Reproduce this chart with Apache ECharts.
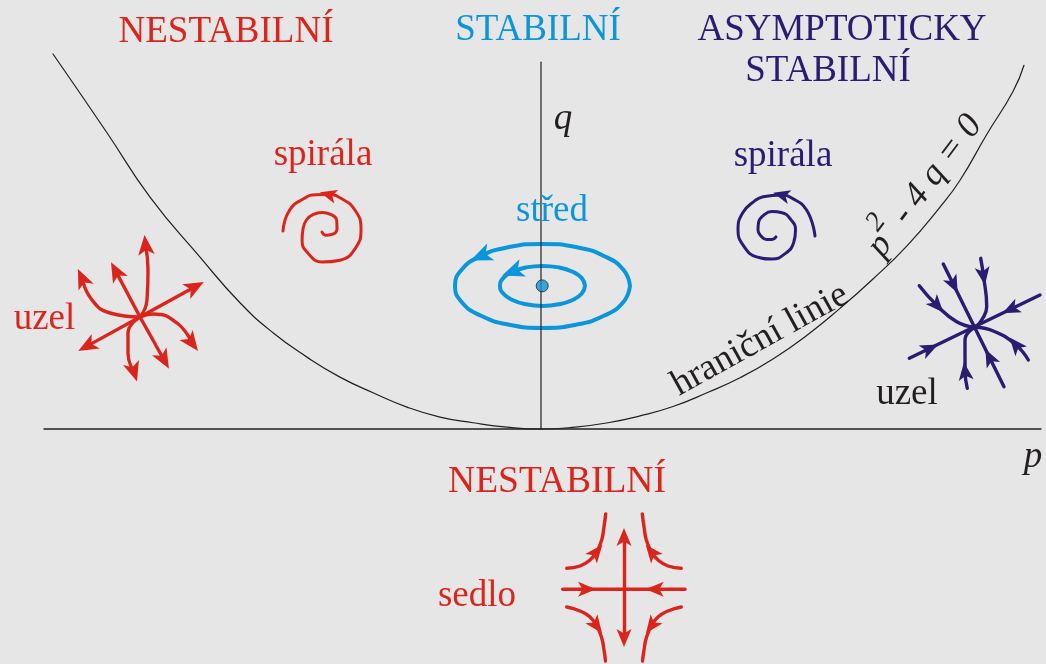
<!DOCTYPE html>
<html>
<head>
<meta charset="utf-8">
<title>Stabilita – rovina p, q</title>
<script src="https://cdn.jsdelivr.net/npm/echarts@6.0.0/dist/echarts.min.js"></script>
<style>
  html, body { margin: 0; padding: 0; background: #e6e6e6; }
  #chart { width: 1046px; height: 664px; }
</style>
</head>
<body>
<div id="chart"></div>
<script>
var RED = '#da251d', CYAN = '#0b95da', NAVY = '#291c72', INK = '#231f20';
var SERIF = '"Liberation Serif", "Times New Roman", serif';
// slim arrow head, tip up; the lone moveTo points keep the box square
var ARROW = 'path://M-1,6 M11,6 M5,0 L10,12 L5,9 L0,12 Z';

// hranicni linie p^2 - 4q = 0
var boundaryP = [-4.88, -4.34, -3.91, -3.41, -3.01, -2.68, -2.34, -2.01, -1.68, -1.34, -1.01, -0.68, -0.34, 0,
                 0.34, 0.67, 0.99, 1.32, 1.66, 1.99, 2.32, 2.66, 2.99, 3.32, 3.66, 3.99, 4.19, 4.46, 4.72, 4.83];
var boundaryQ = [6.00, 4.74, 3.71, 2.75, 2.02, 1.54, 1.15, 0.83, 0.58, 0.35, 0.19, 0.10, 0.03, 0,
                 0.03, 0.10, 0.21, 0.36, 0.58, 0.82, 1.12, 1.50, 1.93, 2.40, 2.93, 3.55, 3.98, 4.72, 5.40, 5.82];

// axis lines
var pAxisEnds = [-4.97, 5.0];
var qAxisTop = 5.87;

// red node (nestabilni uzel)
var redNodeCenter = [-4.01, 1.792];
var redNodeRays = [[-4.54, 1.326], [-3.46, 2.275], [-4.253, 2.526], [-3.769, 1.104]];
var redNodeUp = [[-4.01, 1.792], [-3.94, 2.064], [-3.93, 2.544], [-3.955, 2.944]];
var redNodeLeft = [[-4.01, 1.792], [-4.31, 1.856], [-4.49, 2.064], [-4.59, 2.416]];
var redNodeDown = [[-4.01, 1.792], [-4.13, 1.536], [-4.13, 1.216], [-4.07, 0.912]];
var redNodeRight = [[-4.01, 1.792], [-3.88, 1.84], [-3.64, 1.696], [-3.49, 1.376]];

// red spiral (outward)
var redSpiral = [[-2.19, 3.152], [-2.155, 3.102], [-2.095, 3.112], [-2.04, 3.2], [-2.043, 3.336], [-2.105, 3.435],
                 [-2.19, 3.464], [-2.275, 3.435], [-2.346, 3.344], [-2.38, 3.2], [-2.389, 3.016], [-2.33, 2.813],
                 [-2.19, 2.672], [-2.01, 2.701], [-1.857, 2.891], [-1.80, 3.2], [-1.861, 3.504], [-2.01, 3.699],
                 [-2.129, 3.752], [-2.251, 3.749], [-2.367, 3.691], [-2.515, 3.499], [-2.58, 3.168]];
var redSpiralArrowAt = 18;

// centre (stred): two closed orbits and the equilibrium
var orbitOuter = [[0.89, 2.29], [0.824, 2.547], [0.634, 2.765], [0.35, 2.911], [0.015, 2.962], [-0.32, 2.911],
                  [-0.604, 2.765], [-0.794, 2.547], [-0.86, 2.29], [-0.794, 2.033], [-0.604, 1.815], [-0.32, 1.669],
                  [0.015, 1.618], [0.35, 1.669], [0.634, 1.815], [0.824, 2.033], [0.89, 2.29]];
var orbitInner = [[0.44, 2.29], [0.408, 2.413], [0.316, 2.516], [0.178, 2.586], [0.015, 2.61], [-0.148, 2.586],
                  [-0.286, 2.516], [-0.378, 2.413], [-0.41, 2.29], [-0.378, 2.168], [-0.286, 2.064], [-0.148, 1.995],
                  [0.015, 1.97], [0.178, 1.995], [0.316, 2.064], [0.408, 2.168], [0.44, 2.29]];
var orbitHeads = [[[-0.512, 2.827], [-0.604, 2.765]], [[-0.21, 2.561], [-0.286, 2.516]]];
var centreDot = [0.012, 2.29];

// navy spiral (inward)
var navySpiral = [[2.74, 3.088], [2.656, 3.504], [2.498, 3.704], [2.404, 3.744], [2.221, 3.717], [2.14, 3.654],
                  [2.016, 3.456], [1.97, 3.184], [2.029, 2.923], [2.155, 2.755], [2.31, 2.72], [2.445, 2.81],
                  [2.527, 2.984], [2.545, 3.184], [2.496, 3.355], [2.41, 3.461], [2.31, 3.48], [2.225, 3.419],
                  [2.176, 3.307], [2.17, 3.184], [2.202, 3.083], [2.255, 3.032], [2.31, 3.032], [2.35, 3.074]];
var navySpiralArrowAt = 3;

// navy node (asymptoticky stabilni uzel)
var navyNodeLines = [[[3.683, 1.131], [4.99, 2.144]], [[4.023, 2.64], [4.63, 0.677]]];
var navyNodeLineHeads = [[[3.80, 1.221], [3.89, 1.29]], [[4.784, 1.984], [4.695, 1.915]],
                         [[4.082, 2.449], [4.127, 2.304]], [[4.529, 1.005], [4.484, 1.149]]];
var navyNodeTop = [[4.397, 2.731], [4.425, 2.448], [4.457, 1.957], [4.407, 1.744], [4.34, 1.627]];
var navyNodeLeft = [[3.783, 2.293], [3.963, 1.971], [4.157, 1.717], [4.34, 1.627]];
var navyNodeRight = [[4.873, 1.104], [4.744, 1.352], [4.523, 1.568], [4.34, 1.627]];
var navyNodeBottom = [[4.263, 0.651], [4.241, 0.925], [4.24, 1.424], [4.34, 1.627]];

// saddle (sedlo)
var saddleCenter = [0.83, -2.565];
var saddleStable = [[0.217, -2.565], [1.44, -2.565]];
var saddleStableHeads = [[[0.36, -2.565], [0.46, -2.565]], [[1.237, -2.565], [1.137, -2.565]]];
var saddleUnstableEnds = [[0.83, -1.728], [0.83, -3.344]];
var saddleUL = [[0.257, -2.229], [0.39, -2.192], [0.49, -2.096], [0.557, -1.963], [0.607, -1.776], [0.63, -1.563], [0.647, -1.36]];
var saddleUR = [[1.403, -2.229], [1.27, -2.192], [1.17, -2.096], [1.103, -1.963], [1.053, -1.776], [1.03, -1.563], [1.013, -1.36]];
var saddleLL = [[0.257, -2.848], [0.39, -2.912], [0.49, -3.008], [0.557, -3.152], [0.607, -3.344], [0.63, -3.536], [0.645, -3.712]];
var saddleLR = [[1.403, -2.848], [1.27, -2.912], [1.17, -3.008], [1.103, -3.152], [1.053, -3.344], [1.03, -3.536], [1.015, -3.712]];
var saddleArrowAt = 3;

function zip(a, b) {
  return a.map(function (v, i) { return [v, b[i]]; });
}
function path(pts, color, width, z) {
  return {
    type: 'line', data: pts, smooth: true, symbol: 'none', silent: true, z: z || 2,
    lineStyle: { color: color, width: width, cap: 'round' }
  };
}
function heads(pairs, color, size, width) {
  return {
    type: 'lines', coordinateSystem: 'cartesian2d', polyline: false, silent: true, z: 3,
    symbol: ['none', ARROW], symbolSize: size,
    lineStyle: { color: color, width: width || 0, opacity: 1, curveness: 0 },
    data: pairs.map(function (c) { return { coords: c }; })
  };
}
function at(pts, k) { return [pts[k - 1], pts[k]]; }
function last(pts) { return at(pts, pts.length - 1); }
function rays(center, ends) { return ends.map(function (e) { return [center, e]; }); }

var series = [];
series.push(path(zip(boundaryP, boundaryQ), INK, 1.2, 4));
series.push(path([[pAxisEnds[0], 0], [pAxisEnds[1], 0]], INK, 1.3, 4));
series.push(path([[0, 0], [0, qAxisTop]], INK, 1.2, 4));

// red node
[redNodeUp, redNodeLeft, redNodeDown, redNodeRight].forEach(function (c) { series.push(path(c, RED, 3.4)); });
series.push(heads(rays(redNodeCenter, redNodeRays), RED, 20, 3.4));
series.push(heads([last(redNodeUp), last(redNodeLeft), last(redNodeDown), last(redNodeRight)], RED, 20));

// red spiral
series.push(path(redSpiral, RED, 3));
series.push(heads([at(redSpiral, redSpiralArrowAt)], RED, 17));

// centre
series.push(path(orbitOuter, CYAN, 4));
series.push(path(orbitInner, CYAN, 4));
series.push(heads(orbitHeads, CYAN, 22));
series.push({
  type: 'scatter', data: [centreDot], symbolSize: 12, silent: true, z: 6,
  itemStyle: { color: CYAN, borderColor: INK, borderWidth: 1 }
});

// navy spiral
series.push(path(navySpiral, NAVY, 3));
series.push(heads([at(navySpiral, navySpiralArrowAt)], NAVY, 17));

// navy node
navyNodeLines.forEach(function (l) { series.push(path(l, NAVY, 3.4)); });
[navyNodeTop, navyNodeLeft, navyNodeRight, navyNodeBottom].forEach(function (c) { series.push(path(c, NAVY, 3.4)); });
series.push(heads(navyNodeLineHeads.concat([at(navyNodeTop, 1), at(navyNodeLeft, 1), at(navyNodeRight, 1), at(navyNodeBottom, 1)]), NAVY, 18));

// saddle
series.push(path(saddleStable, RED, 3.4));
series.push(heads(saddleStableHeads, RED, 18));
series.push(heads(rays(saddleCenter, saddleUnstableEnds), RED, 18, 3.4));
[saddleUL, saddleUR, saddleLL, saddleLR].forEach(function (c) { series.push(path(c, RED, 3.4)); });
series.push(heads([at(saddleUL, saddleArrowAt), at(saddleUR, saddleArrowAt), at(saddleLL, saddleArrowAt), at(saddleLR, saddleArrowAt)], RED, 18));

function txt(text, x, y, color, extra) {
  var style = {
    text: text, fill: color, font: '37px ' + SERIF, align: 'center', verticalAlign: 'middle'
  };
  var el = { type: 'text', x: x, y: y, z: 10, silent: true, style: style };
  if (extra) {
    for (var k in extra) {
      if (k === 'style') { for (var s in extra.style) style[s] = extra.style[s]; }
      else el[k] = extra[k];
    }
  }
  return el;
}

var graphics = [
  txt('NESTABILNÍ', 226, 32, RED),
  txt('STABILNÍ', 538, 30.5, CYAN),
  txt('ASYMPTOTICKY', 842, 30.5, NAVY),
  txt('STABILNÍ', 828, 71.5, NAVY),
  txt('spirála', 323, 155.5, RED),
  txt('spirála', 783, 156, NAVY),
  txt('střed', 552, 211, CYAN),
  txt('uzel', 44.5, 319.5, RED),
  txt('uzel', 907, 394.5, INK),
  txt('NESTABILNÍ', 557, 482.5, RED, { style: { font: '37.5px ' + SERIF } }),
  txt('sedlo', 477, 596, RED),
  txt('q', 563, 119, INK, { style: { font: 'italic 37px ' + SERIF } }),
  txt('p', 1033, 457, INK, { style: { font: 'italic 37px ' + SERIF } }),
  txt('hraniční linie', 760, 340, INK, { rotation: 29 * Math.PI / 180, style: { font: '37px ' + SERIF } }),
  txt('{m|p}{s|2}{m| - 4 q = 0}', 925, 186, INK, {
    rotation: 53 * Math.PI / 180,
    style: {
      font: 'italic 36px ' + SERIF,
      rich: {
        m: { font: 'italic 36px ' + SERIF, fill: INK, lineHeight: 62 },
        s: { font: 'italic 28px ' + SERIF, fill: INK, lineHeight: 27, verticalAlign: 'top' }
      }
    }
  })
];

var chart = echarts.init(document.getElementById('chart'));
chart.setOption({
  backgroundColor: '#e6e6e6',
  animation: false,
  grid: { left: 44, right: 5, top: 0, bottom: 0 },
  xAxis: { type: 'value', min: -4.97, max: 5.0, show: false },
  yAxis: { type: 'value', min: -3.76, max: 6.864, show: false },
  series: series,
  graphic: graphics
});
</script>
</body>
</html>
